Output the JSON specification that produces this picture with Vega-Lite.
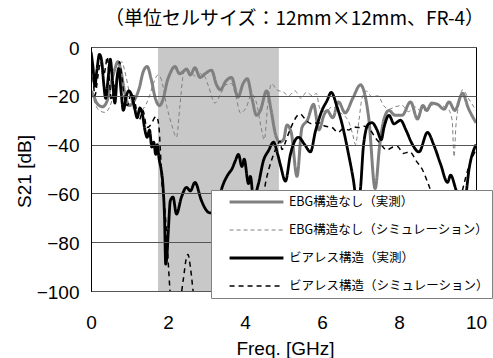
{
"$schema": "https://vega.github.io/schema/vega-lite/v6.json",
"width": 385,
"height": 244,
"autosize": {"type": "none"},
"padding": {"left": 91, "top": 47, "right": 17, "bottom": 67},
"background": "white",
"config": {"view": {"stroke": "black", "strokeWidth": 1}, "font": "Liberation Sans"},
"title": {"text": "（単位セルサイズ：12mm×12mm、FR-4）", "font": "Noto Sans CJK JP", "fontSize": 19, "fontWeight": "normal", "color": "black", "anchor": "middle", "dx": 11, "offset": 10},
"datasets": {
"band": [{"start": 1.74, "end": 4.88}],
"curves": [
{"s":"EBG構造なし（実測）","f":0.00,"db":-18},{"s":"EBG構造なし（実測）","f":0.07,"db":-20},{"s":"EBG構造なし（実測）","f":0.15,"db":-23},{"s":"EBG構造なし（実測）","f":0.30,"db":-24.5},{"s":"EBG構造なし（実測）","f":0.42,"db":-22},{"s":"EBG構造なし（実測）","f":0.52,"db":-15},{"s":"EBG構造なし（実測）","f":0.62,"db":-9},{"s":"EBG構造なし（実測）","f":0.70,"db":-6},{"s":"EBG構造なし（実測）","f":0.78,"db":-10},{"s":"EBG構造なし（実測）","f":0.88,"db":-19},{"s":"EBG構造なし（実測）","f":1.00,"db":-24},{"s":"EBG構造なし（実測）","f":1.12,"db":-22},{"s":"EBG構造なし（実測）","f":1.25,"db":-17},{"s":"EBG構造なし（実測）","f":1.36,"db":-10},{"s":"EBG構造なし（実測）","f":1.46,"db":-8},{"s":"EBG構造なし（実測）","f":1.56,"db":-13},{"s":"EBG構造なし（実測）","f":1.68,"db":-21.5},{"s":"EBG構造なし（実測）","f":1.78,"db":-24},{"s":"EBG構造なし（実測）","f":1.88,"db":-21},{"s":"EBG構造なし（実測）","f":1.98,"db":-14},{"s":"EBG構造なし（実測）","f":2.05,"db":-11},{"s":"EBG構造なし（実測）","f":2.18,"db":-8},{"s":"EBG構造なし（実測）","f":2.30,"db":-11},{"s":"EBG構造なし（実測）","f":2.40,"db":-10},{"s":"EBG構造なし（実測）","f":2.48,"db":-9},{"s":"EBG構造なし（実測）","f":2.58,"db":-11.5},{"s":"EBG構造なし（実測）","f":2.70,"db":-8.5},{"s":"EBG構造なし（実測）","f":2.83,"db":-12.5},{"s":"EBG構造なし（実測）","f":2.96,"db":-11},{"s":"EBG構造なし（実測）","f":3.13,"db":-9.5},{"s":"EBG構造なし（実測）","f":3.26,"db":-15.5},{"s":"EBG構造なし（実測）","f":3.36,"db":-17.5},{"s":"EBG構造なし（実測）","f":3.50,"db":-14},{"s":"EBG構造なし（実測）","f":3.65,"db":-12.5},{"s":"EBG構造なし（実測）","f":3.82,"db":-20.5},{"s":"EBG構造なし（実測）","f":3.95,"db":-15},{"s":"EBG構造なし（実測）","f":4.06,"db":-13},{"s":"EBG構造なし（実測）","f":4.18,"db":-21},{"s":"EBG構造なし（実測）","f":4.30,"db":-28},{"s":"EBG構造なし（実測）","f":4.40,"db":-26},{"s":"EBG構造なし（実測）","f":4.56,"db":-18},{"s":"EBG構造なし（実測）","f":4.68,"db":-26},{"s":"EBG構造なし（実測）","f":4.78,"db":-35},{"s":"EBG構造なし（実測）","f":4.90,"db":-39},{"s":"EBG構造なし（実測）","f":5.00,"db":-38},{"s":"EBG構造なし（実測）","f":5.09,"db":-32},{"s":"EBG構造なし（実測）","f":5.20,"db":-35},{"s":"EBG構造なし（実測）","f":5.35,"db":-53},{"s":"EBG構造なし（実測）","f":5.48,"db":-33},{"s":"EBG構造なし（実測）","f":5.62,"db":-30},{"s":"EBG構造なし（実測）","f":5.78,"db":-23.5},{"s":"EBG構造なし（実測）","f":5.92,"db":-34},{"s":"EBG構造なし（実測）","f":6.05,"db":-28},{"s":"EBG構造なし（実測）","f":6.13,"db":-26},{"s":"EBG構造なし（実測）","f":6.28,"db":-29},{"s":"EBG構造なし（実測）","f":6.43,"db":-22.5},{"s":"EBG構造なし（実測）","f":6.60,"db":-27},{"s":"EBG構造なし（実測）","f":6.80,"db":-21},{"s":"EBG構造なし（実測）","f":7.00,"db":-15.5},{"s":"EBG構造なし（実測）","f":7.12,"db":-20},{"s":"EBG構造なし（実測）","f":7.22,"db":-30},{"s":"EBG構造なし（実測）","f":7.38,"db":-58},{"s":"EBG構造なし（実測）","f":7.50,"db":-40},{"s":"EBG構造なし（実測）","f":7.62,"db":-29},{"s":"EBG構造なし（実測）","f":7.74,"db":-26},{"s":"EBG構造なし（実測）","f":7.90,"db":-28},{"s":"EBG構造なし（実測）","f":8.08,"db":-28},{"s":"EBG構造なし（実測）","f":8.30,"db":-22.5},{"s":"EBG構造なし（実測）","f":8.48,"db":-29.5},{"s":"EBG構造なし（実測）","f":8.62,"db":-24},{"s":"EBG構造なし（実測）","f":8.72,"db":-26},{"s":"EBG構造なし（実測）","f":8.85,"db":-23},{"s":"EBG構造なし（実測）","f":9.00,"db":-23.5},{"s":"EBG構造なし（実測）","f":9.17,"db":-25.5},{"s":"EBG構造なし（実測）","f":9.30,"db":-22.5},{"s":"EBG構造なし（実測）","f":9.45,"db":-26},{"s":"EBG構造なし（実測）","f":9.65,"db":-19},{"s":"EBG構造なし（実測）","f":9.80,"db":-25},{"s":"EBG構造なし（実測）","f":10.0,"db":-31},
{"s":"EBG構造なし（シミュレーション）","f":0.00,"db":-19},{"s":"EBG構造なし（シミュレーション）","f":0.08,"db":-22},{"s":"EBG構造なし（シミュレーション）","f":0.18,"db":-25.5},{"s":"EBG構造なし（シミュレーション）","f":0.36,"db":-26.8},{"s":"EBG構造なし（シミュレーション）","f":0.50,"db":-24},{"s":"EBG構造なし（シミュレーション）","f":0.62,"db":-17},{"s":"EBG構造なし（シミュレーション）","f":0.72,"db":-9},{"s":"EBG構造なし（シミュレーション）","f":0.80,"db":-6},{"s":"EBG構造なし（シミュレーション）","f":0.88,"db":-10},{"s":"EBG構造なし（シミュレーション）","f":1.00,"db":-19},{"s":"EBG構造なし（シミュレーション）","f":1.10,"db":-25},{"s":"EBG構造なし（シミュレーション）","f":1.22,"db":-27},{"s":"EBG構造なし（シミュレーション）","f":1.35,"db":-25.5},{"s":"EBG構造なし（シミュレーション）","f":1.50,"db":-21},{"s":"EBG構造なし（シミュレーション）","f":1.62,"db":-15},{"s":"EBG構造なし（シミュレーション）","f":1.74,"db":-11.5},{"s":"EBG構造なし（シミュレーション）","f":1.82,"db":-13},{"s":"EBG構造なし（シミュレーション）","f":1.97,"db":-24.5},{"s":"EBG構造なし（シミュレーション）","f":2.10,"db":-32},{"s":"EBG構造なし（シミュレーション）","f":2.22,"db":-37},{"s":"EBG構造なし（シミュレーション）","f":2.31,"db":-24},{"s":"EBG構造なし（シミュレーション）","f":2.40,"db":-11},{"s":"EBG構造なし（シミュレーション）","f":2.47,"db":-9},{"s":"EBG構造なし（シミュレーション）","f":2.60,"db":-10.5},{"s":"EBG構造なし（シミュレーション）","f":2.72,"db":-12},{"s":"EBG構造なし（シミュレーション）","f":2.85,"db":-11},{"s":"EBG構造なし（シミュレーション）","f":2.95,"db":-12},{"s":"EBG構造なし（シミュレーション）","f":3.05,"db":-16},{"s":"EBG構造なし（シミュレーション）","f":3.22,"db":-23},{"s":"EBG構造なし（シミュレーション）","f":3.36,"db":-19.5},{"s":"EBG構造なし（シミュレーション）","f":3.50,"db":-15.5},{"s":"EBG構造なし（シミュレーション）","f":3.65,"db":-15},{"s":"EBG構造なし（シミュレーション）","f":3.76,"db":-20},{"s":"EBG構造なし（シミュレーション）","f":3.88,"db":-27},{"s":"EBG構造なし（シミュレーション）","f":4.04,"db":-24.5},{"s":"EBG構造なし（シミュレーション）","f":4.17,"db":-19.3},{"s":"EBG構造なし（シミュレーション）","f":4.30,"db":-23},{"s":"EBG構造なし（シミュレーション）","f":4.42,"db":-33},{"s":"EBG構造なし（シミュレーション）","f":4.50,"db":-38},{"s":"EBG構造なし（シミュレーション）","f":4.60,"db":-22},{"s":"EBG構造なし（シミュレーション）","f":4.69,"db":-15},{"s":"EBG構造なし（シミュレーション）","f":4.82,"db":-17.5},{"s":"EBG構造なし（シミュレーション）","f":5.00,"db":-18.5},{"s":"EBG構造なし（シミュレーション）","f":5.13,"db":-20},{"s":"EBG構造なし（シミュレーション）","f":5.30,"db":-18},{"s":"EBG構造なし（シミュレーション）","f":5.45,"db":-21},{"s":"EBG構造なし（シミュレーション）","f":5.60,"db":-18.5},{"s":"EBG構造なし（シミュレーション）","f":5.75,"db":-20},{"s":"EBG構造なし（シミュレーション）","f":5.85,"db":-19},{"s":"EBG構造なし（シミュレーション）","f":5.95,"db":-25.5},{"s":"EBG構造なし（シミュレーション）","f":6.10,"db":-26.5},{"s":"EBG構造なし（シミュレーション）","f":6.26,"db":-24.5},{"s":"EBG構造なし（シミュレーション）","f":6.48,"db":-27},{"s":"EBG構造なし（シミュレーション）","f":6.69,"db":-30.5},{"s":"EBG構造なし（シミュレーション）","f":6.80,"db":-36},{"s":"EBG構造なし（シミュレーション）","f":6.87,"db":-40},{"s":"EBG構造なし（シミュレーション）","f":6.96,"db":-30},{"s":"EBG構造なし（シミュレーション）","f":7.04,"db":-21},{"s":"EBG構造なし（シミュレーション）","f":7.15,"db":-18},{"s":"EBG構造なし（シミュレーション）","f":7.30,"db":-20.5},{"s":"EBG構造なし（シミュレーション）","f":7.45,"db":-20},{"s":"EBG構造なし（シミュレーション）","f":7.60,"db":-24},{"s":"EBG構造なし（シミュレーション）","f":7.74,"db":-25.5},{"s":"EBG構造なし（シミュレーション）","f":7.90,"db":-24.5},{"s":"EBG構造なし（シミュレーション）","f":8.08,"db":-24},{"s":"EBG構造なし（シミュレーション）","f":8.25,"db":-26.5},{"s":"EBG構造なし（シミュレーション）","f":8.40,"db":-24.5},{"s":"EBG構造なし（シミュレーション）","f":8.60,"db":-26.5},{"s":"EBG構造なし（シミュレーション）","f":8.78,"db":-24.5},{"s":"EBG構造なし（シミュレーション）","f":8.95,"db":-23.5},{"s":"EBG構造なし（シミュレーション）","f":9.10,"db":-24},{"s":"EBG構造なし（シミュレーション）","f":9.28,"db":-25.5},{"s":"EBG構造なし（シミュレーション）","f":9.38,"db":-30},{"s":"EBG構造なし（シミュレーション）","f":9.43,"db":-45},{"s":"EBG構造なし（シミュレーション）","f":9.48,"db":-32},{"s":"EBG構造なし（シミュレーション）","f":9.55,"db":-24},{"s":"EBG構造なし（シミュレーション）","f":9.65,"db":-17.5},{"s":"EBG構造なし（シミュレーション）","f":9.80,"db":-21},{"s":"EBG構造なし（シミュレーション）","f":10.0,"db":-26},
{"s":"ビアレス構造（実測）","f":0.00,"db":-2},{"s":"ビアレス構造（実測）","f":0.05,"db":-8},{"s":"ビアレス構造（実測）","f":0.10,"db":-16},{"s":"ビアレス構造（実測）","f":0.15,"db":-10},{"s":"ビアレス構造（実測）","f":0.22,"db":-3},{"s":"ビアレス構造（実測）","f":0.28,"db":-6},{"s":"ビアレス構造（実測）","f":0.33,"db":-15},{"s":"ビアレス構造（実測）","f":0.38,"db":-21},{"s":"ビアレス構造（実測）","f":0.45,"db":-12},{"s":"ビアレス構造（実測）","f":0.50,"db":-5},{"s":"ビアレス構造（実測）","f":0.56,"db":-14},{"s":"ビアレス構造（実測）","f":0.62,"db":-23},{"s":"ビアレス構造（実測）","f":0.68,"db":-12},{"s":"ビアレス構造（実測）","f":0.72,"db":-9},{"s":"ビアレス構造（実測）","f":0.78,"db":-18},{"s":"ビアレス構造（実測）","f":0.84,"db":-26},{"s":"ビアレス構造（実測）","f":0.92,"db":-20},{"s":"ビアレス構造（実測）","f":0.98,"db":-18},{"s":"ビアレス構造（実測）","f":1.05,"db":-19.5},{"s":"ビアレス構造（実測）","f":1.12,"db":-24},{"s":"ビアレス構造（実測）","f":1.20,"db":-29},{"s":"ビアレス構造（実測）","f":1.27,"db":-25},{"s":"ビアレス構造（実測）","f":1.34,"db":-28},{"s":"ビアレス構造（実測）","f":1.40,"db":-34},{"s":"ビアレス構造（実測）","f":1.46,"db":-37},{"s":"ビアレス構造（実測）","f":1.52,"db":-34},{"s":"ビアレス構造（実測）","f":1.58,"db":-41},{"s":"ビアレス構造（実測）","f":1.63,"db":-39},{"s":"ビアレス構造（実測）","f":1.68,"db":-44},{"s":"ビアレス構造（実測）","f":1.72,"db":-40},{"s":"ビアレス構造（実測）","f":1.77,"db":-46},{"s":"ビアレス構造（実測）","f":1.82,"db":-50},{"s":"ビアレス構造（実測）","f":1.87,"db":-57},{"s":"ビアレス構造（実測）","f":1.91,"db":-70},{"s":"ビアレス構造（実測）","f":1.94,"db":-89},{"s":"ビアレス構造（実測）","f":1.97,"db":-86},{"s":"ビアレス構造（実測）","f":2.01,"db":-75},{"s":"ビアレス構造（実測）","f":2.06,"db":-63},{"s":"ビアレス構造（実測）","f":2.13,"db":-61.5},{"s":"ビアレス構造（実測）","f":2.22,"db":-68.5},{"s":"ビアレス構造（実測）","f":2.35,"db":-61.5},{"s":"ビアレス構造（実測）","f":2.48,"db":-57.5},{"s":"ビアレス構造（実測）","f":2.58,"db":-59},{"s":"ビアレス構造（実測）","f":2.70,"db":-55.5},{"s":"ビアレス構造（実測）","f":2.87,"db":-63},{"s":"ビアレス構造（実測）","f":3.00,"db":-67},{"s":"ビアレス構造（実測）","f":3.10,"db":-68},{"s":"ビアレス構造（実測）","f":3.22,"db":-67},{"s":"ビアレス構造（実測）","f":3.32,"db":-62},{"s":"ビアレス構造（実測）","f":3.44,"db":-56},{"s":"ビアレス構造（実測）","f":3.57,"db":-52},{"s":"ビアレス構造（実測）","f":3.66,"db":-50},{"s":"ビアレス構造（実測）","f":3.74,"db":-47},{"s":"ビアレス構造（実測）","f":3.83,"db":-44},{"s":"ビアレス構造（実測）","f":3.92,"db":-49},{"s":"ビアレス構造（実測）","f":3.98,"db":-46},{"s":"ビアレス構造（実測）","f":4.09,"db":-56},{"s":"ビアレス構造（実測）","f":4.14,"db":-53},{"s":"ビアレス構造（実測）","f":4.22,"db":-62},{"s":"ビアレス構造（実測）","f":4.35,"db":-56},{"s":"ビアレス構造（実測）","f":4.48,"db":-46.5},{"s":"ビアレス構造（実測）","f":4.61,"db":-42.5},{"s":"ビアレス構造（実測）","f":4.74,"db":-39},{"s":"ビアレス構造（実測）","f":4.85,"db":-44},{"s":"ビアレス構造（実測）","f":4.93,"db":-49},{"s":"ビアレス構造（実測）","f":5.05,"db":-55},{"s":"ビアレス構造（実測）","f":5.18,"db":-44},{"s":"ビアレス構造（実測）","f":5.31,"db":-38},{"s":"ビアレス構造（実測）","f":5.39,"db":-37},{"s":"ビアレス構造（実測）","f":5.55,"db":-40},{"s":"ビアレス構造（実測）","f":5.70,"db":-43},{"s":"ビアレス構造（実測）","f":5.83,"db":-34.5},{"s":"ビアレス構造（実測）","f":6.00,"db":-26},{"s":"ビアレス構造（実測）","f":6.13,"db":-22},{"s":"ビアレス構造（実測）","f":6.24,"db":-18.6},{"s":"ビアレス構造（実測）","f":6.39,"db":-24.5},{"s":"ビアレス構造（実測）","f":6.52,"db":-31.5},{"s":"ビアレス構造（実測）","f":6.69,"db":-44},{"s":"ビアレス構造（実測）","f":6.82,"db":-55},{"s":"ビアレス構造（実測）","f":6.92,"db":-66},{"s":"ビアレス構造（実測）","f":7.00,"db":-58},{"s":"ビアレス構造（実測）","f":7.08,"db":-40},{"s":"ビアレス構造（実測）","f":7.21,"db":-31.5},{"s":"ビアレス構造（実測）","f":7.30,"db":-31},{"s":"ビアレス構造（実測）","f":7.43,"db":-34},{"s":"ビアレス構造（実測）","f":7.54,"db":-38},{"s":"ビアレス構造（実測）","f":7.61,"db":-33},{"s":"ビアレス構造（実測）","f":7.74,"db":-28},{"s":"ビアレス構造（実測）","f":7.87,"db":-31.5},{"s":"ビアレス構造（実測）","f":8.04,"db":-30},{"s":"ビアレス構造（実測）","f":8.18,"db":-34},{"s":"ビアレス構造（実測）","f":8.35,"db":-40},{"s":"ビアレス構造（実測）","f":8.52,"db":-43},{"s":"ビアレス構造（実測）","f":8.74,"db":-35},{"s":"ビアレス構造（実測）","f":8.90,"db":-40},{"s":"ビアレス構造（実測）","f":9.08,"db":-48},{"s":"ビアレス構造（実測）","f":9.26,"db":-55.5},{"s":"ビアレス構造（実測）","f":9.34,"db":-52.5},{"s":"ビアレス構造（実測）","f":9.47,"db":-58},{"s":"ビアレス構造（実測）","f":9.60,"db":-65},{"s":"ビアレス構造（実測）","f":9.72,"db":-62},{"s":"ビアレス構造（実測）","f":9.82,"db":-50},{"s":"ビアレス構造（実測）","f":10.0,"db":-40},
{"s":"ビアレス構造（シミュレーション）","f":0.00,"db":-5},{"s":"ビアレス構造（シミュレーション）","f":0.05,"db":-12},{"s":"ビアレス構造（シミュレーション）","f":0.10,"db":-20},{"s":"ビアレス構造（シミュレーション）","f":0.18,"db":-12},{"s":"ビアレス構造（シミュレーション）","f":0.25,"db":-6},{"s":"ビアレス構造（シミュレーション）","f":0.32,"db":-12},{"s":"ビアレス構造（シミュレーション）","f":0.38,"db":-8},{"s":"ビアレス構造（シミュレーション）","f":0.42,"db":-4},{"s":"ビアレス構造（シミュレーション）","f":0.47,"db":-12},{"s":"ビアレス構造（シミュレーション）","f":0.53,"db":-22},{"s":"ビアレス構造（シミュレーション）","f":0.60,"db":-16},{"s":"ビアレス構造（シミュレーション）","f":0.66,"db":-14},{"s":"ビアレス構造（シミュレーション）","f":0.74,"db":-6},{"s":"ビアレス構造（シミュレーション）","f":0.80,"db":-12},{"s":"ビアレス構造（シミュレーション）","f":0.88,"db":-22},{"s":"ビアレス構造（シミュレーション）","f":0.95,"db":-24},{"s":"ビアレス構造（シミュレーション）","f":1.02,"db":-20},{"s":"ビアレス構造（シミュレーション）","f":1.09,"db":-19},{"s":"ビアレス構造（シミュレーション）","f":1.16,"db":-24},{"s":"ビアレス構造（シミュレーション）","f":1.25,"db":-30},{"s":"ビアレス構造（シミュレーション）","f":1.35,"db":-26},{"s":"ビアレス構造（シミュレーション）","f":1.45,"db":-33},{"s":"ビアレス構造（シミュレーション）","f":1.57,"db":-31.5},{"s":"ビアレス構造（シミュレーション）","f":1.65,"db":-29},{"s":"ビアレス構造（シミュレーション）","f":1.70,"db":-28.5},{"s":"ビアレス構造（シミュレーション）","f":1.76,"db":-32},{"s":"ビアレス構造（シミュレーション）","f":1.80,"db":-42},{"s":"ビアレス構造（シミュレーション）","f":1.84,"db":-55},{"s":"ビアレス構造（シミュレーション）","f":1.91,"db":-65},{"s":"ビアレス構造（シミュレーション）","f":1.97,"db":-78},{"s":"ビアレス構造（シミュレーション）","f":2.02,"db":-92},{"s":"ビアレス構造（シミュレーション）","f":2.07,"db":-102},{"s":"ビアレス構造（シミュレーション）","f":2.30,"db":-104},{"s":"ビアレス構造（シミュレーション）","f":2.40,"db":-95},{"s":"ビアレス構造（シミュレーション）","f":2.47,"db":-87},{"s":"ビアレス構造（シミュレーション）","f":2.52,"db":-85},{"s":"ビアレス構造（シミュレーション）","f":2.58,"db":-90},{"s":"ビアレス構造（シミュレーション）","f":2.66,"db":-101},{"s":"ビアレス構造（シミュレーション）","f":2.75,"db":-110},{"s":"ビアレス構造（シミュレーション）","f":4.30,"db":-110},{"s":"ビアレス構造（シミュレーション）","f":4.42,"db":-70},{"s":"ビアレス構造（シミュレーション）","f":4.52,"db":-57},{"s":"ビアレス構造（シミュレーション）","f":4.62,"db":-50},{"s":"ビアレス構造（シミュレーション）","f":4.72,"db":-45},{"s":"ビアレス構造（シミュレーション）","f":4.82,"db":-41},{"s":"ビアレス構造（シミュレーション）","f":4.91,"db":-38.5},{"s":"ビアレス構造（シミュレーション）","f":4.96,"db":-42},{"s":"ビアレス構造（シミュレーション）","f":5.05,"db":-39},{"s":"ビアレス構造（シミュレーション）","f":5.13,"db":-35.5},{"s":"ビアレス構造（シミュレーション）","f":5.25,"db":-31},{"s":"ビアレス構造（シミュレーション）","f":5.34,"db":-28.5},{"s":"ビアレス構造（シミュレーション）","f":5.44,"db":-27.5},{"s":"ビアレス構造（シミュレーション）","f":5.58,"db":-30},{"s":"ビアレス構造（シミュレーション）","f":5.74,"db":-31.5},{"s":"ビアレス構造（シミュレーション）","f":5.90,"db":-31},{"s":"ビアレス構造（シミュレーション）","f":6.09,"db":-32.5},{"s":"ビアレス構造（シミュレーション）","f":6.26,"db":-33},{"s":"ビアレス構造（シミュレーション）","f":6.42,"db":-35},{"s":"ビアレス構造（シミュレーション）","f":6.55,"db":-33.5},{"s":"ビアレス構造（シミュレーション）","f":6.70,"db":-34},{"s":"ビアレス構造（シミュレーション）","f":6.81,"db":-32.7},{"s":"ビアレス構造（シミュレーション）","f":6.95,"db":-33},{"s":"ビアレス構造（シミュレーション）","f":7.10,"db":-32.5},{"s":"ビアレス構造（シミュレーション）","f":7.25,"db":-34},{"s":"ビアレス構造（シミュレーション）","f":7.40,"db":-37.5},{"s":"ビアレス構造（シミュレーション）","f":7.51,"db":-39.5},{"s":"ビアレス構造（シミュレーション）","f":7.68,"db":-42.2},{"s":"ビアレス構造（シミュレーション）","f":7.85,"db":-41},{"s":"ビアレス構造（シミュレーション）","f":7.96,"db":-40.8},{"s":"ビアレス構造（シミュレーション）","f":8.11,"db":-43.6},{"s":"ビアレス構造（シミュレーション）","f":8.28,"db":-43},{"s":"ビアレス構造（シミュレーション）","f":8.46,"db":-47},{"s":"ビアレス構造（シミュレーション）","f":8.60,"db":-50},{"s":"ビアレス構造（シミュレーション）","f":8.72,"db":-54.5},{"s":"ビアレス構造（シミュレーション）","f":8.85,"db":-60},{"s":"ビアレス構造（シミュレーション）","f":9.00,"db":-67},{"s":"ビアレス構造（シミュレーション）","f":9.30,"db":-72},{"s":"ビアレス構造（シミュレーション）","f":9.55,"db":-65},{"s":"ビアレス構造（シミュレーション）","f":9.69,"db":-56},{"s":"ビアレス構造（シミュレーション）","f":9.80,"db":-49.7},{"s":"ビアレス構造（シミュレーション）","f":10.0,"db":-42}
]
},
"layer": [
{"data": {"name": "band"},
 "mark": {"type": "rect", "color": "#c8c8c8"},
 "encoding": {
  "x": {"field": "start", "type": "quantitative", "scale": {"domain": [0, 10], "nice": false},
   "axis": {"values": [0, 2, 4, 6, 8, 10], "grid": false, "ticks": false, "domainColor": "black", "labelFontSize": 19, "labelColor": "black", "labelPadding": 22, "labelFlush": false, "labelOverlap": false, "title": "Freq. [GHz]", "titleFontSize": 19, "titleFontWeight": "normal", "titleColor": "black", "titleX": 194, "titleY": 57, "titleBaseline": "middle"}},
  "x2": {"field": "end"}
 }},
{"data": {"name": "curves"},
 "mark": {"type": "line", "interpolate": "monotone", "clip": true},
 "encoding": {
  "x": {"field": "f", "type": "quantitative"},
  "y": {"field": "db", "type": "quantitative", "scale": {"domain": [-100, 0], "nice": false},
   "axis": {"values": [0, -20, -40, -60, -80, -100], "grid": true, "gridColor": "#555555", "gridWidth": 1, "ticks": false, "domainColor": "black", "labelFontSize": 19, "labelColor": "black", "labelPadding": 12, "labelOffset": 1, "title": "S21 [dB]", "titleFontSize": 19, "titleFontWeight": "normal", "titleColor": "black", "titleX": -67, "titleY": 124, "titleBaseline": "middle", "titleAlign": "center", "zindex": 1}},
  "color": {"field": "s", "type": "nominal",
   "scale": {"domain": ["EBG構造なし（実測）", "EBG構造なし（シミュレーション）", "ビアレス構造（実測）", "ビアレス構造（シミュレーション）"], "range": ["#808080", "#808080", "#000000", "#000000"]},
   "legend": {"orient": "none", "legendX": 120, "legendY": 143, "title": null, "symbolType": "stroke", "symbolSize": 2900, "clipHeight": 20, "rowPadding": 8, "padding": 2, "symbolOffset": 15, "labelOffset": 4, "labelFontSize": 12.5, "labelFont": "Noto Sans CJK JP", "labelColor": "black", "labelLimit": 300, "fillColor": "white", "strokeColor": "#808080", "zindex": 2}},
  "strokeDash": {"field": "s", "type": "nominal",
   "scale": {"domain": ["EBG構造なし（実測）", "EBG構造なし（シミュレーション）", "ビアレス構造（実測）", "ビアレス構造（シミュレーション）"], "range": [[1, 0], [4, 3], [1, 0], [5, 4]]}},
  "strokeWidth": {"field": "s", "type": "nominal",
   "scale": {"type": "ordinal", "domain": ["EBG構造なし（実測）", "EBG構造なし（シミュレーション）", "ビアレス構造（実測）", "ビアレス構造（シミュレーション）"], "range": [3, 1, 2.8, 1.5]}}
 }}
]
}
